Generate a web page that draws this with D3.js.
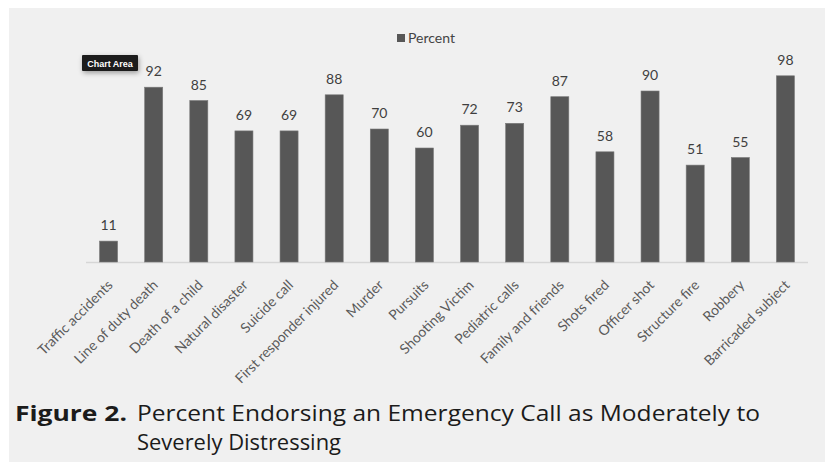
<!DOCTYPE html>
<html>
<head>
<meta charset="utf-8">
<script src="https://cdn.jsdelivr.net/npm/d3@7"></script>
<style>
  body { margin: 0; background: #fff; }
  svg { display: block; }
</style>
</head>
<body>
<div id="chart"></div>
<script>
const categories = ["Traffic accidents", "Line of duty death", "Death of a child", "Natural disaster",
  "Suicide call", "First responder injured", "Murder", "Pursuits", "Shooting Victim",
  "Pediatric calls", "Family and friends", "Shots fired", "Officer shot", "Structure fire",
  "Robbery", "Barricaded subject"];
const percent = [11, 92, 85, 69, 69, 88, 70, 60, 72, 73, 87, 58, 90, 51, 55, 98];
const seriesName = "Percent";
const captionBold = "Figure 2.";
const captionLines = ["Percent Endorsing an Emergency Call as Moderately to", "Severely Distressing"];

const width = 825, height = 462;
const font = "Lato, 'Open Sans', sans-serif";
const capFont = "'Open Sans', Lato, sans-serif";

const svg = d3.select("#chart").append("svg")
  .attr("width", width)
  .attr("height", height)
  .attr("viewBox", [0, 0, width, height]);

// grey page panel
svg.append("rect").attr("x", 9).attr("y", 8).attr("width", width - 9).attr("height", height - 8)
  .attr("fill", "#f0f0f0");

const x = d3.scaleBand()
  .domain(categories)
  .range([86, 808])
  .paddingInner(0.6)
  .paddingOuter(0.3);

const y = d3.scaleLinear()
  .domain([0, 100])
  .range([262, 72]);

// baseline
svg.append("line")
  .attr("x1", 86).attr("x2", 808)
  .attr("y1", y(0) + 0.5).attr("y2", y(0) + 0.5)
  .attr("stroke", "#d6d6d6").attr("stroke-width", 1.5);

const data = categories.map((c, i) => ({ cat: c, val: percent[i] }));

svg.append("g")
  .selectAll("rect")
  .data(data)
  .join("rect")
  .attr("x", d => x(d.cat))
  .attr("y", d => y(d.val))
  .attr("width", x.bandwidth())
  .attr("height", d => y(0) - y(d.val))
  .attr("fill", "#575757")
  .attr("stroke", "#7a7a7a")
  .attr("stroke-width", 0.6);

// value labels
svg.append("g")
  .selectAll("text")
  .data(data)
  .join("text")
  .attr("x", d => x(d.cat) + x.bandwidth() / 2)
  .attr("y", d => y(d.val) - 11)
  .attr("text-anchor", "middle")
  .attr("font-family", font)
  .attr("font-size", 14)
  .attr("fill", "#3f3f3f")
  .text(d => d.val);

// rotated category labels
svg.append("g")
  .selectAll("text")
  .data(categories)
  .join("text")
  .attr("transform", d => `translate(${x(d) + x.bandwidth() / 2 + 5},${y(0) + 24}) rotate(-45)`)
  .attr("text-anchor", "end")
  .attr("font-family", font)
  .attr("font-size", 14)
  .attr("fill", "#5a5a5a")
  .text(d => d);

// legend
const legend = svg.append("g").attr("transform", "translate(397,38)");
legend.append("rect").attr("x", 0).attr("y", -4).attr("width", 8).attr("height", 8).attr("fill", "#575757");
legend.append("text").attr("x", 11).attr("y", 5)
  .attr("font-family", font).attr("font-size", 14).attr("fill", "#444")
  .text(seriesName);

// "Chart Area" hover tag
const defs = svg.append("defs");
const f = defs.append("filter").attr("id", "sh").attr("x", "-30%").attr("y", "-50%").attr("width", "160%").attr("height", "220%");
f.append("feDropShadow").attr("dx", 1).attr("dy", 2).attr("stdDeviation", 2.5).attr("flood-color", "#000").attr("flood-opacity", 0.35);
const tag = svg.append("g").attr("transform", "translate(82,55)");
tag.append("rect").attr("width", 56).attr("height", 16).attr("rx", 1).attr("fill", "#1e1e1e").attr("filter", "url(#sh)");
tag.append("text").attr("x", 28).attr("y", 11.5).attr("text-anchor", "middle")
  .attr("font-family", "'Liberation Sans', Arial, sans-serif").attr("font-size", 9).attr("font-weight", "bold")
  .attr("fill", "#fff").text("Chart Area");

// caption
const cap = svg.append("g").attr("font-family", capFont).attr("font-size", 22).attr("fill", "#1b1b1b");
cap.append("text").attr("x", 15).attr("y", 421).attr("font-weight", "bold")
  .attr("textLength", 112).attr("lengthAdjust", "spacingAndGlyphs").text(captionBold);
cap.append("text").attr("x", 137).attr("y", 421)
  .attr("textLength", 623).attr("lengthAdjust", "spacingAndGlyphs").text(captionLines[0]);
cap.append("text").attr("x", 137).attr("y", 450)
  .attr("textLength", 204).attr("lengthAdjust", "spacingAndGlyphs").text(captionLines[1]);
</script>
</body>
</html>
